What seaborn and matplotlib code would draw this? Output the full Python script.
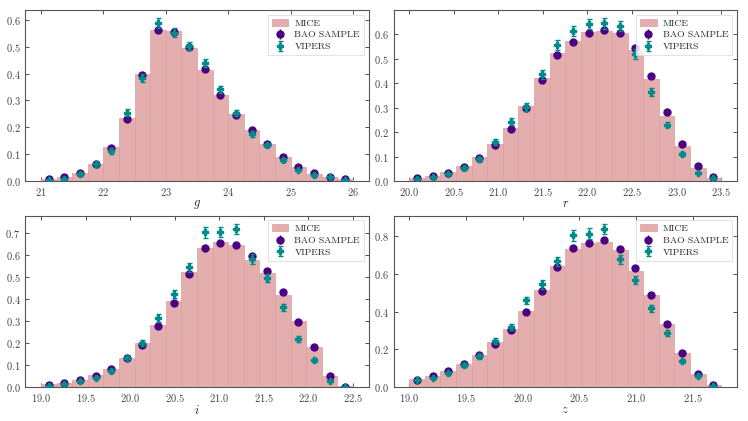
import numpy as np
import pandas as pd
import matplotlib.pyplot as plt
import seaborn as sns
from matplotlib.ticker import MultipleLocator

# --- Data ---
g_edges = [21.0, 26.0]
g_mice = [0.010, 0.015, 0.030, 0.065, 0.128, 0.235, 0.398, 0.563, 0.558, 0.495,
          0.412, 0.322, 0.250, 0.190, 0.137, 0.090, 0.055, 0.028, 0.015, 0.008]
g_bao = [0.008, 0.015, 0.030, 0.063, 0.125, 0.232, 0.395, 0.560, 0.555, 0.498,
         0.415, 0.320, 0.248, 0.190, 0.138, 0.092, 0.055, 0.030, 0.016, 0.008]
g_bao_err = [0.002, 0.002, 0.003, 0.004, 0.005, 0.006, 0.008, 0.009, 0.009, 0.008,
             0.008, 0.007, 0.006, 0.005, 0.005, 0.004, 0.003, 0.003, 0.002, 0.002]
g_vip = [0.005, 0.010, 0.027, 0.063, 0.113, 0.255, 0.385, 0.587, 0.552, 0.502,
         0.440, 0.342, 0.255, 0.175, 0.135, 0.078, 0.042, 0.022, 0.015, 0.005]
g_vip_err = [0.003, 0.004, 0.006, 0.008, 0.010, 0.012, 0.015, 0.018, 0.017, 0.016,
             0.015, 0.013, 0.011, 0.010, 0.008, 0.007, 0.005, 0.004, 0.003, 0.002]

r_edges = [20.0, 23.5]
r_mice = [0.012, 0.022, 0.038, 0.063, 0.098, 0.153, 0.218, 0.307, 0.422, 0.525,
          0.575, 0.608, 0.615, 0.605, 0.538, 0.420, 0.265, 0.143, 0.055, 0.015]
r_bao = [0.013, 0.022, 0.035, 0.060, 0.097, 0.148, 0.215, 0.300, 0.415, 0.515,
         0.570, 0.605, 0.620, 0.605, 0.545, 0.430, 0.282, 0.152, 0.062, 0.018]
r_bao_err = [0.002, 0.002, 0.003, 0.004, 0.005, 0.006, 0.007, 0.008, 0.009, 0.010,
             0.010, 0.010, 0.010, 0.010, 0.010, 0.009, 0.007, 0.005, 0.003, 0.002]
r_vip = [0.010, 0.018, 0.030, 0.055, 0.090, 0.162, 0.243, 0.303, 0.438, 0.558,
         0.615, 0.642, 0.645, 0.635, 0.520, 0.365, 0.232, 0.112, 0.033, 0.012]
r_vip_err = [0.003, 0.004, 0.006, 0.008, 0.010, 0.012, 0.014, 0.016, 0.018, 0.020,
             0.021, 0.021, 0.021, 0.021, 0.019, 0.016, 0.012, 0.008, 0.004, 0.002]

i_edges = [19.0, 22.5]
i_mice = [0.012, 0.018, 0.030, 0.052, 0.083, 0.133, 0.200, 0.283, 0.393, 0.522,
          0.635, 0.660, 0.645, 0.580, 0.520, 0.420, 0.300, 0.180, 0.048, 0.002]
i_bao = [0.010, 0.018, 0.030, 0.050, 0.083, 0.130, 0.193, 0.278, 0.382, 0.515,
         0.633, 0.657, 0.648, 0.595, 0.530, 0.432, 0.298, 0.183, 0.050, 0.000]
i_bao_err = [0.002, 0.002, 0.003, 0.004, 0.005, 0.006, 0.007, 0.008, 0.009, 0.010,
             0.011, 0.011, 0.011, 0.010, 0.010, 0.009, 0.008, 0.006, 0.003, 0.000]
i_vip = [0.005, 0.015, 0.027, 0.042, 0.073, 0.130, 0.200, 0.315, 0.423, 0.545,
         0.705, 0.707, 0.720, 0.582, 0.497, 0.363, 0.220, 0.123, 0.028, 0.000]
i_vip_err = [0.003, 0.004, 0.006, 0.008, 0.010, 0.012, 0.014, 0.017, 0.019, 0.021,
             0.024, 0.024, 0.024, 0.022, 0.020, 0.017, 0.013, 0.009, 0.004, 0.000]

z_edges = [19.0, 21.75]
z_mice = [0.040, 0.058, 0.085, 0.120, 0.168, 0.237, 0.310, 0.405, 0.515, 0.640,
          0.735, 0.765, 0.770, 0.730, 0.615, 0.487, 0.333, 0.182, 0.068, 0.010]
z_bao = [0.038, 0.057, 0.083, 0.120, 0.170, 0.230, 0.303, 0.398, 0.508, 0.635,
         0.738, 0.767, 0.780, 0.735, 0.630, 0.490, 0.335, 0.180, 0.068, 0.012]
z_bao_err = [0.003, 0.004, 0.005, 0.006, 0.007, 0.008, 0.009, 0.010, 0.011, 0.012,
             0.013, 0.013, 0.013, 0.013, 0.012, 0.011, 0.009, 0.007, 0.004, 0.002]
z_vip = [0.035, 0.048, 0.072, 0.115, 0.162, 0.245, 0.318, 0.460, 0.545, 0.668,
         0.805, 0.815, 0.840, 0.678, 0.567, 0.418, 0.287, 0.138, 0.060, 0.005]
z_vip_err = [0.006, 0.007, 0.009, 0.011, 0.013, 0.015, 0.017, 0.020, 0.022, 0.024,
             0.027, 0.027, 0.027, 0.024, 0.022, 0.019, 0.015, 0.010, 0.006, 0.002]

y_steps = [0.1, 0.1, 0.1, 0.2]

panels = [
    ("g", g_edges, g_mice, g_bao, g_bao_err, g_vip, g_vip_err),
    ("r", r_edges, r_mice, r_bao, r_bao_err, r_vip, r_vip_err),
    ("i", i_edges, i_mice, i_bao, i_bao_err, i_vip, i_vip_err),
    ("z", z_edges, z_mice, z_bao, z_bao_err, z_vip, z_vip_err),
]

# --- Style ---
sns.set_style("ticks")
plt.rcParams["font.family"] = ["serif"]
plt.rcParams["font.serif"] = ["cmr10", "DejaVu Serif"]
plt.rcParams["mathtext.fontset"] = "cm"
plt.rcParams["axes.formatter.use_mathtext"] = True
plt.rcParams["axes.unicode_minus"] = False

MICE_COLOR = "#e3aead"
BAO_COLOR = "#4b0082"
VIP_COLOR = "#008b8b"

fig, axes = plt.subplots(2, 2, figsize=(7.48, 4.21), dpi=100)
fig.subplots_adjust(left=0.034, right=0.985, top=0.976, bottom=0.081,
                    wspace=0.073, hspace=0.2)

for ax, step, (band, lims, mice, bao, bao_err, vip, vip_err) in zip(axes.flat, y_steps, panels):
    edges = np.linspace(lims[0], lims[1], len(mice) + 1)
    centers = 0.5 * (edges[1:] + edges[:-1])
    df = pd.DataFrame({"mag": centers, "w": mice})

    sns.histplot(data=df, x="mag", weights="w", bins=list(edges), ax=ax,
                 color=MICE_COLOR, alpha=1.0, edgecolor="#d9a09f",
                 linewidth=0.5, label="MICE")
    ax.errorbar(centers, bao, yerr=bao_err, fmt="o", color=BAO_COLOR,
                markersize=5.0, elinewidth=1, capsize=0, zorder=3,
                label="BAO SAMPLE")
    ax.errorbar(centers, vip, yerr=vip_err, fmt="P", color=VIP_COLOR,
                markersize=3.8, elinewidth=1, capsize=1.8, capthick=1,
                zorder=4, label="VIPERS")

    ax.set_ylim(bottom=0)
    ax.yaxis.set_major_locator(MultipleLocator(step))
    ax.set_xlabel(f"${band}$", fontsize=9, labelpad=0)
    ax.set_ylabel("")
    ax.tick_params(direction="in", top=True, right=True, labelsize=7.5,
                   length=3, width=0.6, colors="#333333", labelcolor="#444444")
    for s in ax.spines.values():
        s.set_color("#555555")
        s.set_linewidth(0.8)
    leg = ax.legend(loc="upper right", fontsize=7, frameon=True,
                    borderpad=0.4, labelspacing=0.3, handlelength=1.7,
                    handletextpad=0.6, fancybox=False)
    leg.get_frame().set_edgecolor("#dddddd")
    leg.get_frame().set_linewidth(0.8)

plt.savefig("out.png", dpi=100)
